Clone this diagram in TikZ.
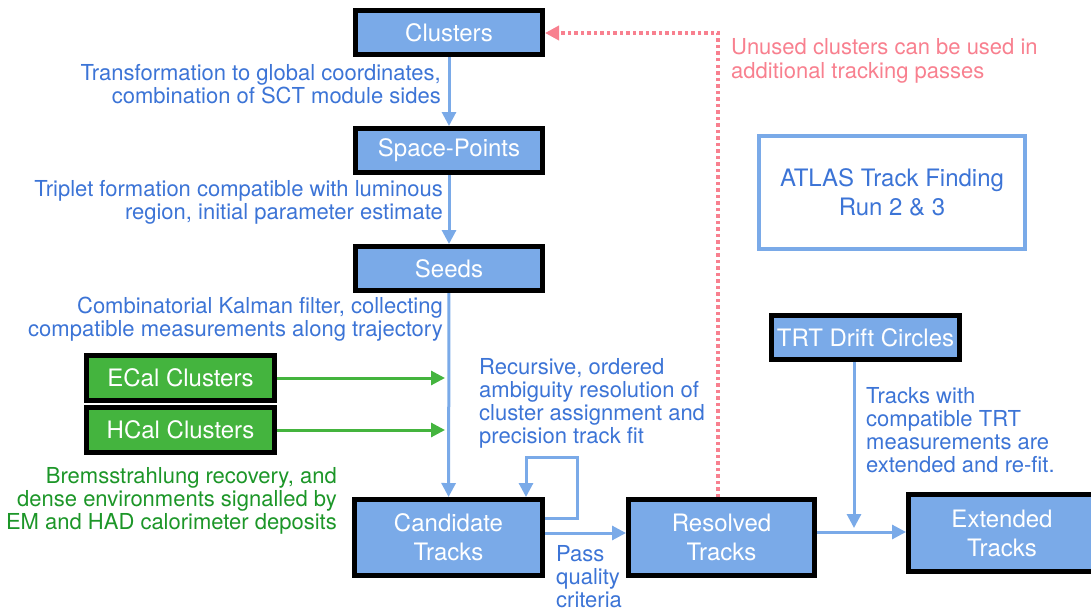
\documentclass[tikz,border=0pt]{standalone}
\usepackage{fontspec}
\setmainfont{TeX Gyre Heros}
\usetikzlibrary{arrows.meta}
\definecolor{boxblue}{RGB}{122,170,232}
\definecolor{txtblue}{RGB}{60,116,214}
\definecolor{boxgreen}{RGB}{68,180,62}
\definecolor{txtgreen}{RGB}{28,150,40}
\definecolor{pink}{RGB}{248,128,143}
\tikzset{
  stagebox/.style={draw=black, line width=5pt, fill=boxblue, text=white, inner sep=0pt, align=center,
    font=\fontsize{24}{29}\selectfont},
  greenbox/.style={stagebox, fill=boxgreen},
  lab/.style={inner sep=0pt, text=txtblue, font=\fontsize{22}{23}\selectfont},
  flow/.style={draw=boxblue, line width=3pt, -{Triangle[length=14pt,width=14pt]}},
  gflow/.style={draw=boxgreen, line width=3pt, -{Triangle[length=14pt,width=14pt]}},
  pflow/.style={draw=pink, line width=3.5pt, dash pattern=on 3.5pt off 3pt, -{Triangle[length=14pt,width=14pt]}},
}
\begin{document}
\begin{tikzpicture}[x=1pt,y=-1pt]
\useasboundingbox (0,0) rectangle (1091,610);
% boxes
\node[stagebox, minimum width=187pt, minimum height=44pt] (clusters) at (449,32.5) {Clusters};
\node[stagebox, minimum width=187pt, minimum height=44pt] (space) at (449,150.5) {Space-Points};
\node[stagebox, minimum width=187pt, minimum height=44pt] (seeds) at (449,268.5) {Seeds};
\node[greenbox, minimum width=188pt, minimum height=45pt] (ecal) at (180.5,378) {ECal Clusters};
\node[greenbox, minimum width=188pt, minimum height=45pt] (hcal) at (180.5,430) {HCal Clusters};
\node[stagebox, minimum width=188pt, minimum height=76pt] (cand) at (448.5,537.5) {Candidate\\Tracks};
\node[stagebox, minimum width=186pt, minimum height=76pt] (resolved) at (721.5,537.5) {Resolved\\Tracks};
\node[stagebox, minimum width=187pt, minimum height=77pt] (extended) at (1002,533) {Extended\\Tracks};
\node[stagebox, minimum width=188pt, minimum height=44pt] (trt) at (865.5,337.5) {TRT Drift Circles};
\node[draw=boxblue, line width=4pt, minimum width=266pt, minimum height=113pt, inner sep=0pt, align=center,
  text=txtblue, font=\fontsize{24}{29}\selectfont] (atlas) at (892,192.5) {ATLAS Track Finding\\Run 2 \& 3};
% labels
\node[lab, anchor=east, align=right] (l1) at (441,84.5) {Transformation to global coordinates,\\combination of SCT module sides};
\node[lab, anchor=east, align=right] (l2) at (443,202.5) {Triplet formation compatible with luminous\\region, initial parameter estimate};
\node[lab, anchor=east, align=right] (l3) at (443,319.5) {Combinatorial Kalman filter, collecting\\compatible measurements along trajectory};
\node[lab, anchor=east, align=right, text=txtgreen] (l4) at (337,501) {Bremsstrahlung recovery, and\\dense environments signalled by\\EM and HAD calorimeter deposits};
\node[lab, anchor=west, align=left] (l5) at (479,403.5) {Recursive, ordered\\ambiguity resolution of\\cluster assignment and\\precision track fit};
\node[lab, anchor=west, align=left] (l6) at (556,577) {Pass\\quality\\criteria};
\node[lab, anchor=west, align=left] (l7) at (866,430.5) {Tracks with\\compatible TRT\\measurements are\\extended and re-fit.};
\node[lab, anchor=west, align=left, text=pink, font=\fontsize{22}{24}\selectfont] (l8) at (731,61) {Unused clusters can be used in\\additional tracking passes};
% connectors
\draw[flow] (clusters) -- (space);
\draw[flow] (space) -- (seeds);
\draw[flow] (seeds) -- (cand);
\coordinate (eend) at (445,378);
\coordinate (hend) at (445,430);
\draw[gflow] (ecal.east) -- (eend);
\draw[gflow] (hcal.east) -- (hend);
\coordinate (lpA) at (577,518);
\coordinate (lpB) at (526,457);
\draw[flow] (cand.east |- lpA) -- (lpA) -- (lpA |- lpB) -- (lpB) -- (lpB |- cand.north);
\coordinate (crY) at (0,533);
\draw[flow] (cand.east |- crY) -- (resolved.west |- crY);
\coordinate (reY) at (0,532);
\draw[flow] (resolved.east |- reY) -- (extended.west |- reY);
\coordinate (trtend) at (854,528);
\draw[flow] (trt.south -| trtend) -- (trtend);
\coordinate (pk) at (718,33);
\draw[pflow] (resolved.north -| pk) -- (pk) -- (clusters.east |- pk);
\end{tikzpicture}
\end{document}
